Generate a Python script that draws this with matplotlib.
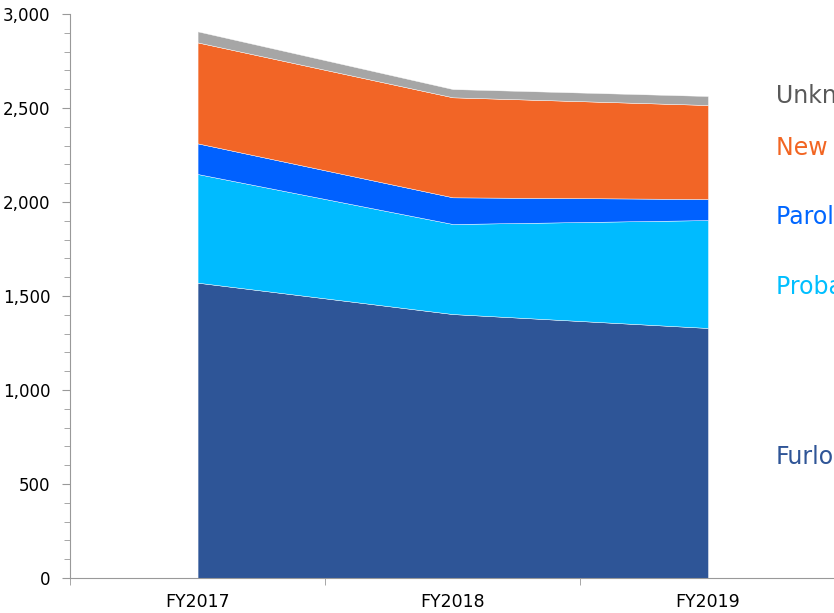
import numpy as np
import matplotlib
matplotlib.use("Agg")
import matplotlib.pyplot as plt
from matplotlib.ticker import MultipleLocator, FuncFormatter

plt.rcParams["font.family"] = ["DejaVu Sans"]

years = ["FY2017", "FY2018", "FY2019"]
furlough = [1571, 1404, 1330]
probation = [578, 479, 574]
parole = [163, 142, 112]
new_comm = [537, 532, 500]
unknown = [59, 44, 48]

names = ["Furlough", "Probation Violator", "Parole Violator", "New Commitment", "Unknown"]
fills = ["#2E5597", "#00BBFF", "#0061FF", "#F26526", "#A6A6A6"]
label_cols = ["#2F5597", "#00BFFF", "#0066FF", "#F26522", "#595959"]
label_y = [645, 1550, 1922, 2290, 2565]

fig = plt.figure(figsize=(8.34, 6.13), dpi=100)
ax = fig.add_axes([0.0839, 0.0571, 0.918, 0.920])

x = np.arange(len(years))
ax.stackplot(x, furlough, probation, parole, new_comm, unknown, colors=fills,
             edgecolor="white", linewidth=0.3)

ax.set_xlim(-0.5, 2.5)
ax.set_ylim(0, 3000)
ax.set_xticks(x)
ax.set_xticklabels(years, fontsize=12.5)
ax.set_xticks(np.arange(-0.5, 3.0, 1.0), minor=True)
ax.tick_params(axis="x", which="major", length=0, pad=11)
ax.tick_params(axis="x", which="minor", length=5, color="#999999")
ax.yaxis.set_major_locator(MultipleLocator(500))
ax.yaxis.set_minor_locator(MultipleLocator(100))
ax.yaxis.set_major_formatter(FuncFormatter(lambda v, p: f"{int(v):,}"))
ax.tick_params(axis="y", which="major", length=6, pad=8, color="#999999", labelsize=12)
ax.tick_params(axis="y", which="minor", length=4, color="#999999")
for s in ["top", "right"]:
    ax.spines[s].set_visible(False)
for s in ["left", "bottom"]:
    ax.spines[s].set_color("#999999")

# series labels sit at the right edge, partly cut off as in the source
for name, c, yv in zip(names, label_cols, label_y):
    ax.text(2.265, yv, name, color=c, fontsize=17, ha="left", va="center", clip_on=False)

fig.savefig("out.png", dpi=100)
